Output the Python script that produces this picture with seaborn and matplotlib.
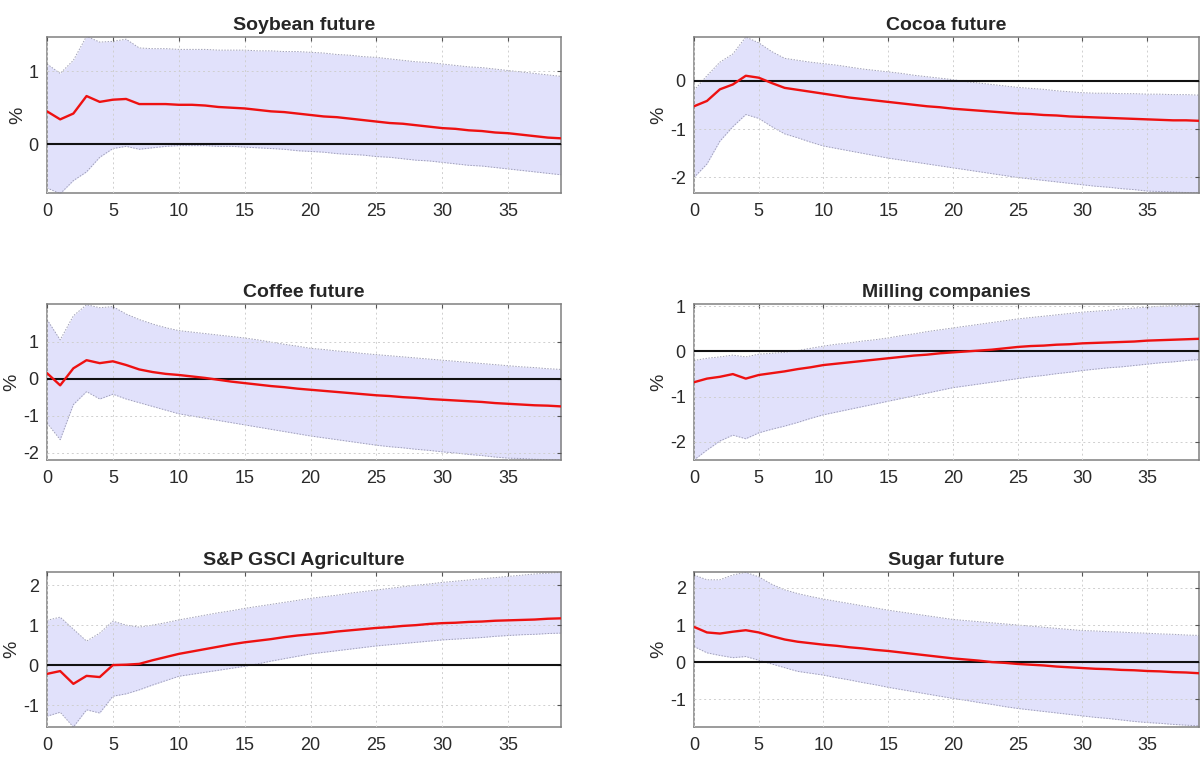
import numpy as np
import pandas as pd
import seaborn as sns
import matplotlib.pyplot as plt

horizon = list(range(40))

titles = ["Soybean future", "Cocoa future", "Coffee future",
          "Milling companies", "S&P GSCI Agriculture", "Sugar future"]

# impulse responses (median) and bands
soy_mid = [0.45, 0.34, 0.42, 0.66, 0.58, 0.61, 0.62, 0.55, 0.55, 0.55,
           0.54, 0.54, 0.53, 0.51, 0.50, 0.49, 0.47, 0.45, 0.44, 0.42,
           0.40, 0.38, 0.37, 0.35, 0.33, 0.31, 0.29, 0.28, 0.26, 0.24,
           0.22, 0.21, 0.19, 0.18, 0.16, 0.15, 0.13, 0.11, 0.09, 0.08]
soy_hi = [1.10, 0.97, 1.15, 1.48, 1.40, 1.41, 1.44, 1.32, 1.31, 1.31,
          1.30, 1.30, 1.30, 1.29, 1.29, 1.29, 1.28, 1.28, 1.27, 1.27,
          1.26, 1.25, 1.23, 1.22, 1.20, 1.19, 1.17, 1.15, 1.13, 1.12,
          1.10, 1.08, 1.06, 1.05, 1.03, 1.01, 0.99, 0.97, 0.95, 0.93]
soy_lo = [-0.60, -0.68, -0.50, -0.38, -0.18, -0.06, -0.03, -0.07, -0.05, -0.03,
          -0.02, -0.02, -0.02, -0.03, -0.03, -0.04, -0.05, -0.06, -0.07, -0.09,
          -0.10, -0.11, -0.13, -0.14, -0.15, -0.17, -0.18, -0.20, -0.22, -0.23,
          -0.25, -0.27, -0.29, -0.30, -0.32, -0.34, -0.36, -0.38, -0.40, -0.42]

cocoa_mid = [-0.53, -0.42, -0.18, -0.08, 0.10, 0.06, -0.05, -0.15, -0.19, -0.23,
             -0.27, -0.31, -0.35, -0.38, -0.41, -0.44, -0.47, -0.50, -0.53, -0.55,
             -0.58, -0.60, -0.62, -0.64, -0.66, -0.68, -0.69, -0.71, -0.72, -0.74,
             -0.75, -0.76, -0.77, -0.78, -0.79, -0.80, -0.81, -0.82, -0.82, -0.83]
cocoa_hi = [-0.20, 0.10, 0.38, 0.55, 0.90, 0.78, 0.60, 0.46, 0.42, 0.38,
            0.35, 0.32, 0.28, 0.24, 0.21, 0.18, 0.15, 0.11, 0.08, 0.05,
            0.02, -0.02, -0.05, -0.08, -0.11, -0.14, -0.16, -0.18, -0.21, -0.23,
            -0.25, -0.26, -0.26, -0.27, -0.27, -0.28, -0.28, -0.29, -0.29, -0.30]
cocoa_lo = [-2.00, -1.72, -1.25, -0.95, -0.70, -0.78, -0.95, -1.10, -1.18, -1.27,
            -1.35, -1.40, -1.45, -1.50, -1.55, -1.60, -1.64, -1.68, -1.72, -1.76,
            -1.80, -1.84, -1.88, -1.92, -1.96, -2.00, -2.03, -2.06, -2.09, -2.12,
            -2.15, -2.18, -2.20, -2.23, -2.25, -2.28, -2.29, -2.30, -2.31, -2.32]

coffee_mid = [0.15, -0.18, 0.28, 0.50, 0.42, 0.47, 0.37, 0.25, 0.18, 0.13,
              0.10, 0.06, 0.02, -0.03, -0.08, -0.12, -0.16, -0.20, -0.23, -0.27,
              -0.30, -0.33, -0.36, -0.39, -0.42, -0.45, -0.47, -0.50, -0.52, -0.55,
              -0.57, -0.59, -0.61, -0.63, -0.66, -0.68, -0.70, -0.72, -0.73, -0.75]
coffee_hi = [1.60, 1.05, 1.70, 2.00, 1.92, 1.95, 1.75, 1.60, 1.48, 1.38,
             1.30, 1.26, 1.22, 1.18, 1.14, 1.10, 1.05, 0.99, 0.93, 0.88,
             0.82, 0.79, 0.75, 0.72, 0.68, 0.65, 0.62, 0.59, 0.56, 0.53,
             0.50, 0.47, 0.44, 0.41, 0.38, 0.35, 0.32, 0.30, 0.27, 0.25]
coffee_lo = [-1.20, -1.65, -0.70, -0.35, -0.55, -0.42, -0.55, -0.65, -0.75, -0.85,
             -0.95, -1.01, -1.07, -1.13, -1.19, -1.25, -1.31, -1.37, -1.43, -1.49,
             -1.55, -1.60, -1.65, -1.70, -1.75, -1.80, -1.84, -1.87, -1.91, -1.94,
             -1.98, -2.01, -2.05, -2.08, -2.12, -2.15, -2.16, -2.18, -2.19, -2.20]

mill_mid = [-0.68, -0.60, -0.56, -0.50, -0.60, -0.52, -0.48, -0.44, -0.39, -0.35,
            -0.30, -0.27, -0.24, -0.21, -0.18, -0.15, -0.12, -0.09, -0.07, -0.04,
            -0.02, 0.00, 0.02, 0.04, 0.07, 0.10, 0.12, 0.13, 0.15, 0.16,
            0.18, 0.19, 0.20, 0.21, 0.22, 0.24, 0.25, 0.26, 0.27, 0.28]
mill_hi = [-0.20, -0.15, -0.12, -0.08, -0.12, -0.06, -0.04, -0.02, 0.02, 0.07,
           0.12, 0.16, 0.19, 0.23, 0.26, 0.30, 0.35, 0.39, 0.44, 0.48,
           0.52, 0.56, 0.60, 0.64, 0.68, 0.72, 0.75, 0.78, 0.81, 0.84,
           0.87, 0.89, 0.91, 0.94, 0.96, 0.98, 1.00, 1.01, 1.03, 1.04]
mill_lo = [-2.40, -2.18, -1.98, -1.85, -1.93, -1.80, -1.72, -1.65, -1.57, -1.48,
           -1.40, -1.34, -1.28, -1.22, -1.16, -1.10, -1.04, -0.98, -0.92, -0.86,
           -0.80, -0.76, -0.72, -0.68, -0.64, -0.60, -0.56, -0.53, -0.49, -0.46,
           -0.42, -0.39, -0.36, -0.34, -0.31, -0.28, -0.25, -0.23, -0.20, -0.18]

gsci_mid = [-0.22, -0.15, -0.47, -0.27, -0.30, 0.00, 0.01, 0.03, 0.12, 0.20,
            0.28, 0.34, 0.40, 0.46, 0.52, 0.57, 0.61, 0.65, 0.70, 0.74,
            0.77, 0.80, 0.84, 0.87, 0.90, 0.93, 0.95, 0.98, 1.00, 1.03,
            1.05, 1.06, 1.08, 1.09, 1.11, 1.12, 1.13, 1.14, 1.16, 1.17]
gsci_hi = [1.12, 1.20, 0.90, 0.60, 0.80, 1.10, 1.00, 0.95, 1.00, 1.06,
           1.13, 1.19, 1.25, 1.31, 1.36, 1.42, 1.47, 1.52, 1.57, 1.62,
           1.67, 1.71, 1.75, 1.80, 1.84, 1.88, 1.92, 1.96, 2.00, 2.03,
           2.07, 2.10, 2.13, 2.16, 2.19, 2.22, 2.25, 2.28, 2.30, 2.32]
gsci_lo = [-1.28, -1.18, -1.55, -1.12, -1.20, -0.78, -0.72, -0.62, -0.50, -0.39,
           -0.28, -0.23, -0.18, -0.13, -0.08, -0.03, 0.03, 0.10, 0.16, 0.22,
           0.28, 0.32, 0.36, 0.40, 0.44, 0.48, 0.51, 0.54, 0.57, 0.60,
           0.63, 0.65, 0.67, 0.69, 0.72, 0.74, 0.76, 0.77, 0.79, 0.80]

sugar_mid = [0.95, 0.80, 0.77, 0.82, 0.86, 0.80, 0.70, 0.61, 0.55, 0.51,
             0.47, 0.44, 0.40, 0.37, 0.33, 0.30, 0.26, 0.22, 0.18, 0.14,
             0.10, 0.07, 0.04, 0.00, -0.02, -0.05, -0.07, -0.09, -0.12, -0.14,
             -0.16, -0.18, -0.19, -0.21, -0.22, -0.24, -0.25, -0.27, -0.28, -0.30]
sugar_hi = [2.35, 2.22, 2.22, 2.35, 2.42, 2.30, 2.10, 1.95, 1.85, 1.77,
            1.70, 1.64, 1.58, 1.52, 1.46, 1.40, 1.35, 1.30, 1.25, 1.20,
            1.15, 1.12, 1.09, 1.06, 1.03, 1.00, 0.97, 0.94, 0.91, 0.88,
            0.85, 0.84, 0.82, 0.81, 0.79, 0.78, 0.76, 0.75, 0.73, 0.72]
sugar_lo = [0.42, 0.25, 0.18, 0.12, 0.15, 0.05, -0.05, -0.15, -0.25, -0.30,
            -0.35, -0.42, -0.48, -0.55, -0.61, -0.68, -0.74, -0.80, -0.86, -0.92,
            -0.98, -1.03, -1.09, -1.14, -1.20, -1.25, -1.29, -1.33, -1.37, -1.41,
            -1.45, -1.49, -1.52, -1.56, -1.60, -1.63, -1.65, -1.68, -1.70, -1.72]

mids = [soy_mid, cocoa_mid, coffee_mid, mill_mid, gsci_mid, sugar_mid]
his = [soy_hi, cocoa_hi, coffee_hi, mill_hi, gsci_hi, sugar_hi]
los = [soy_lo, cocoa_lo, coffee_lo, mill_lo, gsci_lo, sugar_lo]

ylims = [(-0.67, 1.47), (-2.32, 0.90), (-2.2, 2.02),
         (-2.4, 1.05), (-1.55, 2.33), (-1.75, 2.43)]
yticks = [[0, 1], [-2, -1, 0], [-2, -1, 0, 1],
          [-2, -1, 0, 1], [-1, 0, 1, 2], [-1, 0, 1, 2]]

frames = []
for t, m, h, l in zip(titles, mids, his, los):
    frames.append(pd.DataFrame({"series": t, "h": horizon, "mid": m, "hi": h, "lo": l}))
df = pd.concat(frames, ignore_index=True)

sns.set_style("white")
plt.rcParams["font.family"] = ["Liberation Sans", "DejaVu Sans"]
plt.rcParams["axes.unicode_minus"] = False

fig = plt.figure(figsize=(12.01, 7.57), dpi=100)
W, H = 1201, 757
cols = [(47, 561), (694, 1199)]
rows = [(37, 193), (304, 460), (572, 727)]

band_col = "#e1e1fb"
edge_col = "#a0a0b8"

for i, t in enumerate(titles):
    x0, x1 = cols[i % 2]
    y0, y1 = rows[i // 2]
    ax = fig.add_axes([x0 / W, 1 - y1 / H, (x1 - x0) / W, (y1 - y0) / H])
    d = df[df["series"] == t]
    ax.fill_between(d["h"], d["lo"], d["hi"], color=band_col, lw=0, zorder=1)
    ax.plot(d["h"], d["hi"], color=edge_col, lw=0.7, ls=(0, (1.5, 1.5)), zorder=2)
    ax.plot(d["h"], d["lo"], color=edge_col, lw=0.7, ls=(0, (1.5, 1.5)), zorder=2)
    ax.axhline(0, color="#111111", lw=1.5, zorder=3)
    sns.lineplot(data=d, x="h", y="mid", color="#ee1111", lw=1.7, ax=ax, zorder=4)
    ax.set_xlim(0, 39)
    ax.set_ylim(*ylims[i])
    ax.set_xticks(range(0, 40, 5))
    ax.set_yticks(yticks[i])
    ax.grid(True, color="#cfcfcf", ls=(0, (2, 3)), lw=0.7)
    ax.set_axisbelow(False)
    for sp in ax.spines.values():
        sp.set_color("#808080")
        sp.set_linewidth(1.1)
    ax.tick_params(direction="in", length=3, color="#555555", top=True, right=True,
                   labelsize=13, labelcolor="#2a2a2a")
    ax.tick_params(axis="x", pad=7)
    ax.tick_params(axis="y", pad=6)
    ax.set_xlabel("")
    ax.set_ylabel("%", fontsize=14, color="#2a2a2a", labelpad=2)
    ax.set_title(t, fontsize=14, fontweight="bold", pad=5)

fig.savefig("out.png", dpi=100)
